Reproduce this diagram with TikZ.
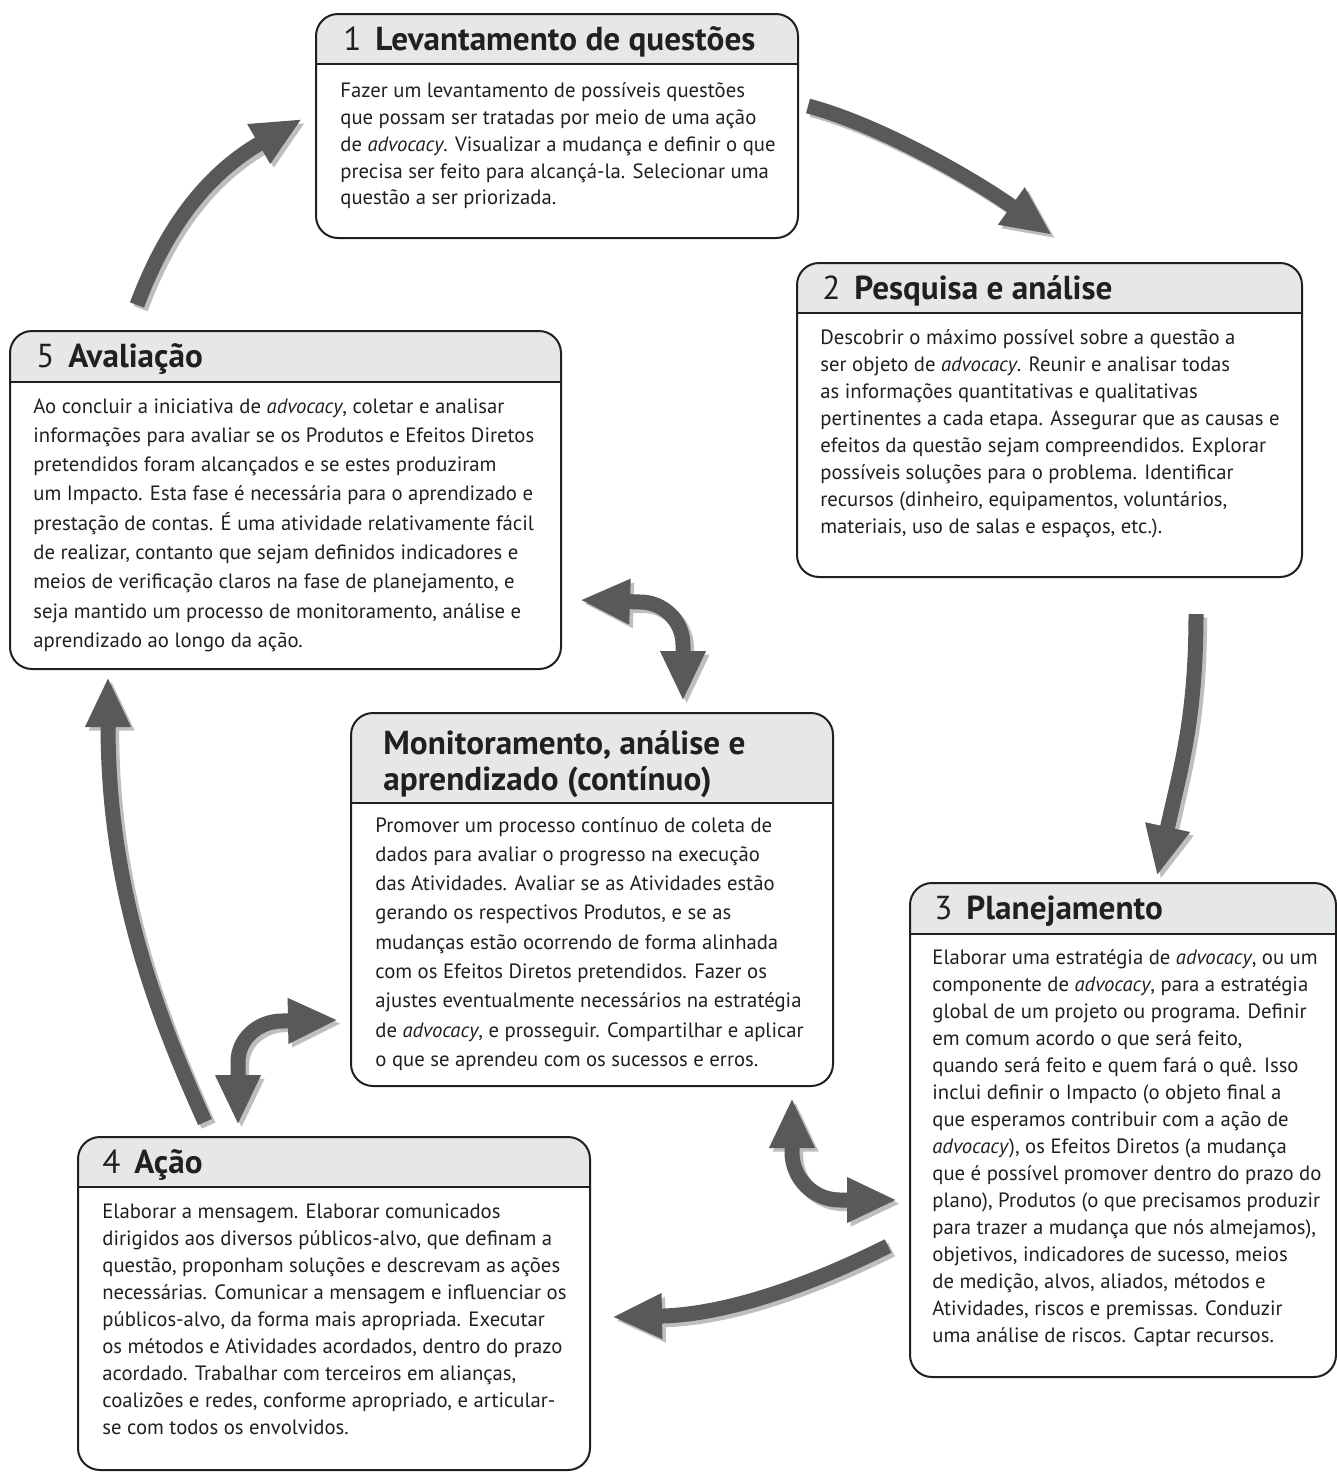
\documentclass[tikz,border=0pt]{standalone}
\usepackage{fontspec}
\setmainfont{PT Sans}
\usetikzlibrary{arrows.meta,fit}
\definecolor{ink}{HTML}{231F20}
\definecolor{hdr}{HTML}{E6E7E8}
\definecolor{arrowc}{HTML}{58595B}
\definecolor{shadowc}{HTML}{BCBEC0}
\newcommand\bodyfont{\fontsize{10.35pt}{13.5pt}\selectfont}
\newcommand\loosefont{\fontsize{10.35pt}{14.65pt}\selectfont}
\newcommand\titlefont{\fontsize{16.6pt}{18pt}\selectfont}
\newcommand\bodytext[1]{\parbox[t]{300pt}{\raggedright #1}}
% name, x1, y1, x2, y2, y of header line
\newcommand\stagebox[6]{%
  \begin{scope}
    \clip (#2,#3) rectangle (#4,#6);
    \fill[hdr, rounded corners=11pt] (#2,#3) rectangle (#4,#5);
  \end{scope}
  \node[stage, fit={(#2,#3) (#4,#5)}] (#1) {};
  \draw[line width=1pt, ink] (#1.west |- 0,#6) -- (#1.east |- 0,#6);
}
\newcommand\arrowset[1]{%
  \draw[#1] (a1s) .. controls (165,230) and (205,175) .. (a1e);
  \draw[#1] (a2s) .. controls (880,125) and (975,180) .. (a2e);
  \draw[#1] (a3s) .. controls (1196,720) and (1180,770) .. (a3e);
  \draw[#1] (a4s) .. controls (800,1290) and (720,1315) .. (a4e);
  \draw[#1] (a5s) .. controls (150,1000) and (108,880) .. (a5e);
  \draw[#1,both] (a6s) -- (238,1062) to[out=90,in=180] (282,1021) -- (a6e);
  \draw[#1,both] (a7s) -- (640,602) to[out=0,in=90] (683,645) -- (a7e);
  \draw[#1,both] (a8s) -- (792,1152) to[out=-90,in=180] (840,1200) -- (a8e);
}
\tikzset{
  stage/.style={draw=ink, line width=1pt, rounded corners=11pt, inner sep=0pt},
  ttl/.style={anchor=base west, inner sep=0pt, text=ink, font=\titlefont},
  body/.style={anchor=base west, inner sep=0pt, text=ink, font=\bodyfont},
  loose/.style={body, font=\loosefont},
  flow/.style={line width=7.5pt, -{Triangle[length=25pt,width=21pt]}},
  both/.style={{Triangle[length=25pt,width=21pt]}-{Triangle[length=25pt,width=21pt]}},
}
\begin{document}
\begin{tikzpicture}[x=0.5pt,y=-0.5pt]
\fill[white] (0,0) rectangle (1337,1472);
\useasboundingbox (0,0) rectangle (1337,1472);

% boxes
\stagebox{b1}{316}{14}{798}{238}{64}
\stagebox{b2}{797}{263}{1302}{577}{313}
\stagebox{b5}{10}{331}{561}{669}{382}
\stagebox{bm}{351}{713}{833}{1086}{803}
\stagebox{b3}{910}{883}{1336}{1377}{934}
\stagebox{b4}{78}{1137}{590}{1470}{1187}

% titles
\node[ttl] (b1t) at (343,50) {1\hspace{0.42em}\textbf{Levantamento de questões}};
\node[ttl] (b2t) at (822,299) {2\hspace{0.42em}\textbf{Pesquisa e análise}};
\node[ttl] (b5t) at (36,367) {5\hspace{0.42em}\textbf{Avaliação}};
\node[ttl] (b3t) at (934,919) {3\hspace{0.42em}\textbf{Planejamento}};
\node[ttl] (b4t) at (102,1173) {4\hspace{0.42em}\textbf{Ação}};
\node[ttl] (bmt) at (383,754) {\parbox[t]{300pt}{\raggedright\bfseries Monitoramento, análise e\\aprendizado (contínuo)}};

% body texts
\node[body] (b1x) at (340,97) {\bodytext{Fazer um levantamento de possíveis questões\\
que possam ser tratadas por meio de uma ação\\
de \emph{advocacy}. Visualizar a mudança e definir o que\\
precisa ser feito para alcançá-la. Selecionar uma\\
questão a ser priorizada.}};

\node[body] (b2x) at (820,344) {\bodytext{Descobrir o máximo possível sobre a questão a\\
ser objeto de \emph{advocacy}. Reunir e analisar todas\\
as informações quantitativas e qualitativas\\
pertinentes a cada etapa. Assegurar que as causas e\\
efeitos da questão sejam compreendidos. Explorar\\
possíveis soluções para o problema. Identificar\\
recursos (dinheiro, equipamentos, voluntários,\\
materiais, uso de salas e espaços, etc.).}};

\node[loose] (b5x) at (33,413) {\bodytext{Ao concluir a iniciativa de \emph{advocacy}, coletar e analisar\\
informações para avaliar se os Produtos e Efeitos Diretos\\
pretendidos foram alcançados e se estes produziram\\
um Impacto. Esta fase é necessária para o aprendizado e\\
prestação de contas. É uma atividade relativamente fácil\\
de realizar, contanto que sejam definidos indicadores e\\
meios de verificação claros na fase de planejamento, e\\
seja mantido um processo de monitoramento, análise e\\
aprendizado ao longo da ação.}};

\node[loose] (bmx) at (375,832) {\bodytext{Promover um processo contínuo de coleta de\\
dados para avaliar o progresso na execução\\
das Atividades. Avaliar se as Atividades estão\\
gerando os respectivos Produtos, e se as\\
mudanças estão ocorrendo de forma alinhada\\
com os Efeitos Diretos pretendidos. Fazer os\\
ajustes eventualmente necessários na estratégia\\
de \emph{advocacy}, e prosseguir. Compartilhar e aplicar\\
o que se aprendeu com os sucessos e erros.}};

\node[body] (b3x) at (932,964) {\bodytext{Elaborar uma estratégia de \emph{advocacy}, ou um\\
componente de \emph{advocacy}, para a estratégia\\
global de um projeto ou programa. Definir\\
em comum acordo o que será feito,\\
quando será feito e quem fará o quê. Isso\\
inclui definir o Impacto (o objeto final a\\
que esperamos contribuir com a ação de\\
\emph{advocacy}), os Efeitos Diretos (a mudança\\
que é possível promover dentro do prazo do\\
plano), Produtos (o que precisamos produzir\\
para trazer a mudança que nós almejamos),\\
objetivos, indicadores de sucesso, meios\\
de medição, alvos, aliados, métodos e\\
Atividades, riscos e premissas. Conduzir\\
uma análise de riscos. Captar recursos.}};

\node[body] (b4x) at (102,1218) {\bodytext{Elaborar a mensagem. Elaborar comunicados\\
dirigidos aos diversos públicos-alvo, que definam a\\
questão, proponham soluções e descrevam as ações\\
necessárias. Comunicar a mensagem e influenciar os\\
públicos-alvo, da forma mais apropriada. Executar\\
os métodos e Atividades acordados, dentro do prazo\\
acordado. Trabalhar com terceiros em alianças,\\
coalizões e redes, conforme apropriado, e articular-\\
se com todos os envolvidos.}};

% arrow end points
\coordinate (a1s) at (137,305);  \coordinate (a1e) at (302,119);
\coordinate (a2s) at (808,106);  \coordinate (a2e) at (1052,235);
\coordinate (a3s) at (1196,614); \coordinate (a3e) at (1157,876);
\coordinate (a4s) at (888,1246); \coordinate (a4e) at (612,1317);
\coordinate (a5s) at (205,1122); \coordinate (a5e) at (108,677);
\coordinate (a6s) at (238,1125); \coordinate (a6e) at (338,1020);
\coordinate (a7s) at (580,600);  \coordinate (a7e) at (683,701);
\coordinate (a8s) at (792,1098); \coordinate (a8e) at (897,1200);

\begin{scope}[transform canvas={xshift=1.8pt,yshift=-1.8pt}]
  \arrowset{flow,shadowc}
\end{scope}
\arrowset{flow,arrowc}
\end{tikzpicture}
\end{document}
